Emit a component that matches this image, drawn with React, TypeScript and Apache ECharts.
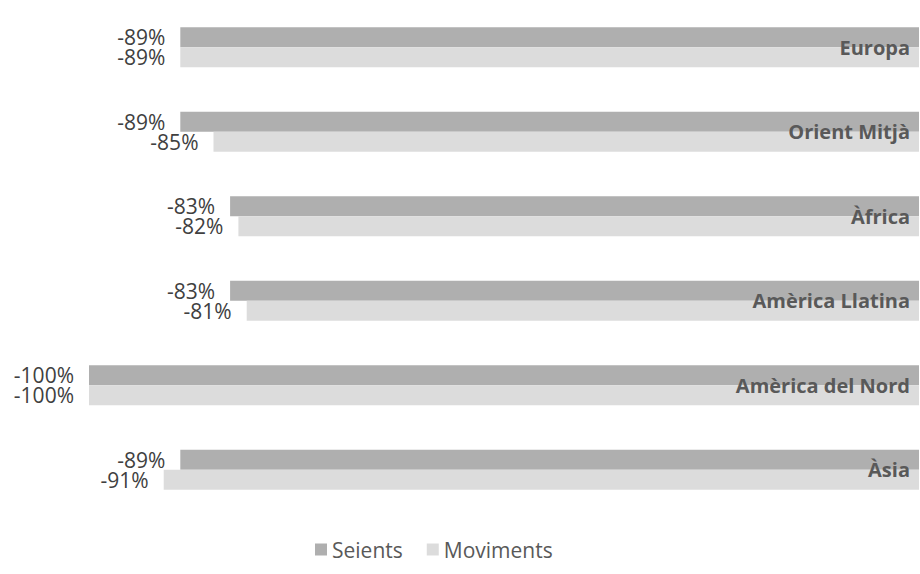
import React, { useEffect, useRef } from "react";
import * as echarts from "echarts";

const categories = ["Europa", "Orient Mitjà", "Àfrica", "Amèrica Llatina", "Amèrica del Nord", "Àsia"];
const seients = [-89, -89, -83, -83, -100, -89];
const moviments = [-89, -85, -82, -81, -100, -91];
const seriesNames = ["Seients", "Moviments"];

const FONT = "'Open Sans', sans-serif";

export default function App() {
  const ref = useRef<HTMLDivElement>(null);
  useEffect(() => {
    if (!ref.current) return;
    const chart = echarts.init(ref.current, null, { renderer: "svg" });
    const valueLabel = {
      show: true,
      position: "left",
      distance: 15,
      color: "#404040",
      fontFamily: FONT,
      fontSize: 21,
      lineHeight: 19,
      formatter: (p: any) => `${p.value}%`,
    };
    chart.setOption({
      animation: false,
      backgroundColor: "#ffffff",
      textStyle: { fontFamily: FONT },
      grid: { left: 89, right: 1, top: 5, bottom: 62, containLabel: false },
      legend: {
        data: seriesNames,
        bottom: 9,
        left: 310,
        itemWidth: 12,
        itemHeight: 12,
        itemGap: 24,
        icon: "rect",
        textStyle: { color: "#595959", fontSize: 21, fontFamily: FONT },
      },
      xAxis: {
        type: "value",
        min: -100,
        max: 0,
        show: false,
      },
      yAxis: {
        type: "category",
        data: categories,
        inverse: true,
        position: "right",
        axisLine: { show: false },
        axisTick: { show: false },
        splitLine: { show: false },
        axisLabel: {
          inside: true,
          margin: 9,
          color: "#595959",
          fontWeight: "bold",
          fontSize: 20,
          fontFamily: FONT,
        },
        z: 10,
      },
      series: [
        {
          name: seriesNames[0],
          type: "bar",
          data: seients,
          barWidth: 20,
          barGap: "0%",
          itemStyle: { color: "#afafaf" },
          label: valueLabel,
        },
        {
          name: seriesNames[1],
          type: "bar",
          data: moviments,
          barWidth: 20,
          barGap: "0%",
          itemStyle: { color: "#dcdcdc" },
          label: valueLabel,
        },
      ],
    });
    return () => chart.dispose();
  }, []);
  return <div ref={ref} style={{ width: 920, height: 574, position: "absolute", left: 0, top: 0 }} />;
}
